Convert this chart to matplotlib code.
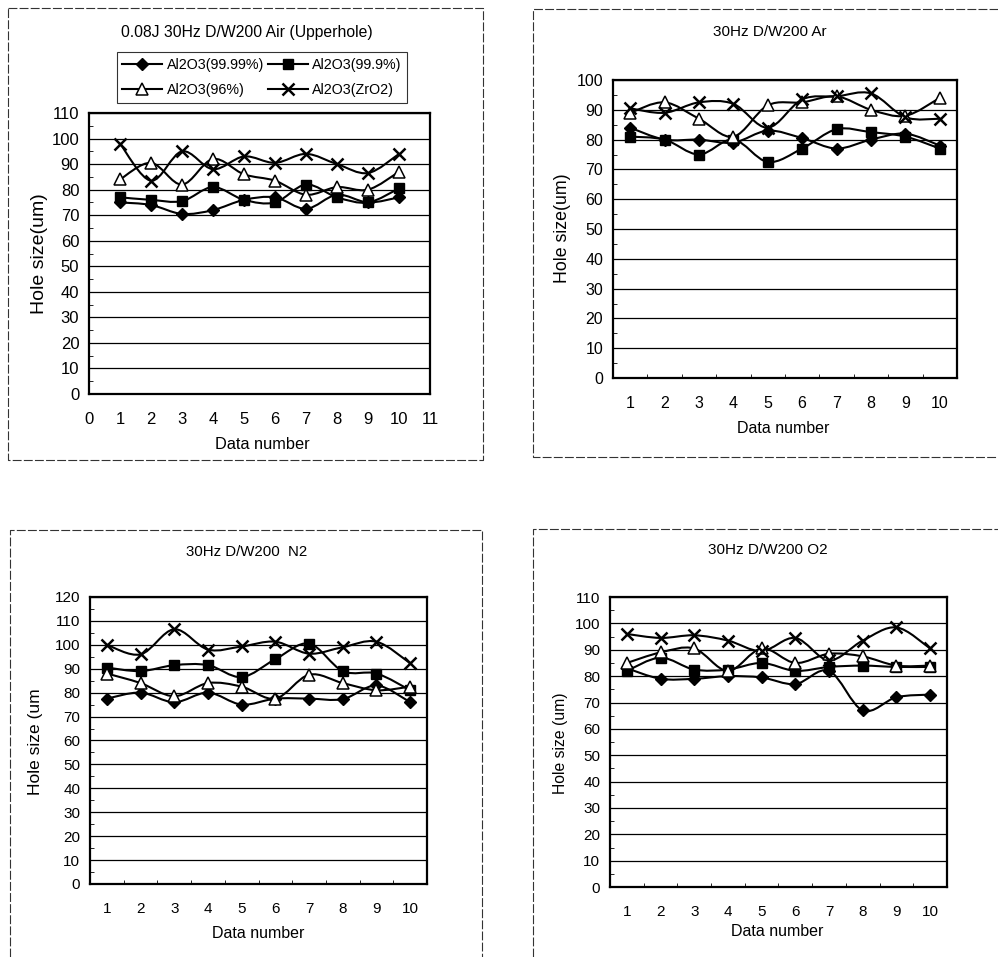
import matplotlib
matplotlib.use('Agg')
import matplotlib.pyplot as plt
from matplotlib.path import Path
from matplotlib.patches import PathPatch
from matplotlib.lines import Line2D
import numpy as np

plt.rcParams['font.family'] = ['Liberation Sans', 'DejaVu Sans']

# data
data_no = [1, 2, 3, 4, 5, 6, 7, 8, 9, 10]
series_names = ['Al2O3(99.99%)', 'Al2O3(99.9%)', 'Al2O3(96%)', 'Al2O3(ZrO2)']

air_9999 = [75, 74, 70.5, 72, 76, 77, 72.5, 78, 75, 77]
air_999 = [77, 76, 75.5, 81, 76, 75, 82, 77, 75, 80.5]
air_96 = [84, 90.5, 82, 92, 86, 83.5, 78, 81, 80, 87]
air_zro2 = [98, 83.5, 95, 88, 93, 90.5, 94, 90, 86.5, 94]

ar_9999 = [84, 80, 80, 79, 83, 80.5, 77, 80, 82, 78]
ar_999 = [81, 80, 75, 80, 72.5, 77, 83.5, 82.5, 81, 77]
ar_96 = [89, 92.5, 87, 81, 91.5, 92.5, 94.5, 90, 88, 94]
ar_zro2 = [90.5, 89, 92.5, 92, 84, 93.5, 94.5, 95.5, 87.5, 87]

n2_9999 = [77.5, 80, 76, 80, 75, 77.5, 77.5, 77.3, 83, 76]
n2_999 = [90.5, 89, 91.5, 91.5, 86.5, 94, 100.5, 89, 88, 81]
n2_96 = [88, 84, 78.5, 84, 82.5, 77.5, 87.5, 84, 81, 82.5]
n2_zro2 = [100, 96, 106.5, 98, 99.3, 101.3, 96.3, 99, 101.3, 92.3]

o2_9999 = [83, 79, 79, 80, 79.5, 77, 82, 67, 72, 73]
o2_999 = [82, 87, 82.5, 82.5, 85, 82, 83.5, 84, 83.5, 83.5]
o2_96 = [85, 89, 90.5, 82, 90.5, 85, 88.5, 87.5, 84, 84]
o2_zro2 = [96, 94.5, 95.5, 93.5, 89.5, 94.5, 86, 93.5, 98.5, 90.5]

markers = [
    dict(marker='D', ms=6, mfc='black', mec='black'),
    dict(marker='s', ms=7, mfc='black', mec='black'),
    dict(marker='^', ms=8, mfc='white', mec='black', mew=1.1),
    dict(marker='x', ms=8, mec='black', mew=1.8),
]


def smooth_line(ax, xs, ys):
    # Excel style smoothed line: Catmull-Rom segments as cubic Beziers
    pts = np.column_stack([xs, ys]).astype(float)
    n = len(pts)
    verts = [pts[0]]
    codes = [Path.MOVETO]
    for i in range(n - 1):
        p0 = pts[i - 1] if i > 0 else pts[i]
        p1 = pts[i]
        p2 = pts[i + 1]
        p3 = pts[i + 2] if i + 2 < n else pts[i + 1]
        c1 = p1 + (p2 - p0) / 6.0
        c2 = p2 - (p3 - p1) / 6.0
        verts += [c1, c2, p2]
        codes += [Path.CURVE4] * 3
    ax.add_patch(PathPatch(Path(verts, codes), fill=False, ec='black', lw=1.5, zorder=3))


def draw_panel(ax, all_series, ymax, fs, xfs, yfs, ylabel, category=True):
    for ys, m in zip(all_series, markers):
        smooth_line(ax, data_no, ys)
        ax.plot(data_no, ys, ls='none', zorder=4, **m)
    ax.set_ylim(0, ymax)
    ax.set_yticks(np.arange(0, ymax + 1, 10))
    ax.set_yticks(np.arange(5, ymax, 10), minor=True)
    ax.yaxis.grid(True, color='black', lw=0.9)
    ax.set_axisbelow(True)
    if category:
        ax.set_xlim(0.5, 10.5)
        ax.set_xticks(data_no)
        ax.set_xticks(np.arange(1.5, 10.5, 1), minor=True)
        ax.tick_params(axis='x', which='major', length=0, pad=13)
        ax.tick_params(axis='x', which='minor', direction='in', length=3)
    else:
        ax.set_xlim(0, 11)
        ax.set_xticks(range(0, 12))
        ax.tick_params(axis='x', which='major', length=0, pad=13)
    ax.tick_params(axis='y', which='major', length=0, pad=7)
    ax.tick_params(axis='y', which='minor', direction='in', length=3)
    ax.tick_params(labelsize=fs)
    for s in ax.spines.values():
        s.set_linewidth(1.6)
    ax.set_xlabel('Data number', fontsize=xfs)
    ax.set_ylabel(ylabel, fontsize=yfs)


fig = plt.figure(figsize=(9.98, 9.57), dpi=100)

ax1 = fig.add_axes([0.0892, 0.5883, 0.3417, 0.2936])
ax2 = fig.add_axes([0.6142, 0.6050, 0.3447, 0.3114])
ax3 = fig.add_axes([0.0902, 0.0763, 0.3377, 0.2999])
ax4 = fig.add_axes([0.6112, 0.0731, 0.3377, 0.3030])

draw_panel(ax1, [air_9999, air_999, air_96, air_zro2], 110, 12, 11.8, 14, 'Hole size(um)', category=False)
draw_panel(ax2, [ar_9999, ar_999, ar_96, ar_zro2], 100, 11.5, 11.5, 12.8, 'Hole size(um)')
draw_panel(ax3, [n2_9999, n2_999, n2_96, n2_zro2], 120, 11, 11.5, 12.5, 'Hole size (um')
draw_panel(ax4, [o2_9999, o2_999, o2_96, o2_zro2], 110, 11, 11.5, 11.3, 'Hole size (um)')

label_pos = {
    ax1: ((0.507, -0.181), (-0.144, 0.50)),
    ax2: ((0.494, -0.171), (-0.148, 0.503)),
    ax3: ((0.50, -0.171), (-0.163, 0.495)),
    ax4: ((0.496, -0.155), (-0.148, 0.497)),
}
for ax, (xl, yl) in label_pos.items():
    ax.xaxis.set_label_coords(*xl)
    ax.xaxis.label.set_va('center')
    ax.yaxis.set_label_coords(*yl)
    ax.yaxis.label.set_va('center')

W, H = 998, 957
titles = [
    ('0.08J 30Hz D/W200 Air (Upperhole)', 247, 33, 11.3),
    ('30Hz D/W200 Ar', 770, 32, 11),
    ('30Hz D/W200  N2', 247, 552, 10.8),
    ('30Hz D/W200 O2', 768, 550, 11),
]
for t, x, y, fs in titles:
    fig.text(x / W, 1 - y / H, t, ha='center', va='center', fontsize=fs)

# legend filled row by row like the original
order = [0, 2, 1, 3]
handles = [Line2D([], [], color='black', lw=1.5, **markers[i]) for i in order]
labels = [series_names[i] for i in order]
leg = fig.legend(handles, labels, loc='center', ncol=2,
                 bbox_to_anchor=(262 / W, 1 - 77.5 / H), fontsize=10.3,
                 frameon=True, fancybox=False, edgecolor='black',
                 handlelength=2.8, columnspacing=0.25, handletextpad=0.3,
                 labelspacing=0.8, borderpad=0.4)
leg.get_frame().set_linewidth(0.8)

# chart-area borders of the four scanned charts
borders = [
    [(8, 8), (483, 8), (483, 460), (8, 460), (8, 8)],
    [(998, 9), (533, 9), (533, 457), (998, 457)],
    [(10, 957), (10, 530), (482, 530), (482, 957)],
    [(533, 957), (533, 529), (998, 529)],
]
for b in borders:
    xs = [p[0] / W for p in b]
    ys = [1 - p[1] / H for p in b]
    fig.add_artist(Line2D(xs, ys, color='#333333', lw=0.8, ls=(0, (8, 2))))

fig.savefig('out.png', dpi=100)
